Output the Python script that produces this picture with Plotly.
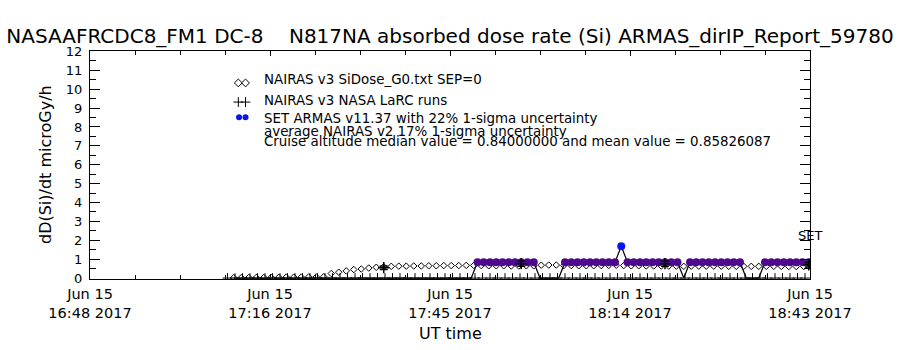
import pandas as pd
import plotly.graph_objects as go

# ---------------- data ----------------
# ARMAS SET absorbed dose rate, one record per minute starting 17:11 UT
armas_start = "2017-06-15 17:11:00"
armas_values = [
    0, 0, 0, 0, 0, 0, 0, 0, 0, 0, 0, 0, 0, 0, 0, 0, 0, 0, 0, 0,
    0, 0, 0, 0, 0, 0, 0, 0, 0, 0, 0, 0, 0, 0, 0, 0, 0, 0, 0,
    0.84, 0.84, 0.84, 0.84, 0.84, 0.84, 0.84, 0.84, 0.84, 0.84,
    0, 0, 0, 0,
    0.84, 0.84, 0.84, 0.84, 0.84, 0.84, 0.84, 0.84, 0.84,
    1.68,
    0.84, 0.84, 0.84, 0.84, 0.84, 0.84, 0.84, 0.84, 0.84,
    0,
    0.84, 0.84, 0.84, 0.84, 0.84, 0.84, 0.84, 0.84, 0.84,
    0, 0, 0,
    0.84, 0.84, 0.84, 0.84, 0.84, 0.84, 0.84, 0.84,
]

# NAIRAS v3 SiDose_G0 model, one value every 72 s starting 17:11 UT
nairas_start = "2017-06-15 17:11:00"
nairas_values = [
    0.02, 0.02, 0.03, 0.03, 0.03, 0.04, 0.04, 0.05, 0.05, 0.05, 0.06, 0.06, 0.07,
    0.24, 0.31, 0.38, 0.45, 0.48, 0.53, 0.57, 0.60,
    0.62, 0.63, 0.63, 0.64, 0.64, 0.65, 0.65, 0.66, 0.66, 0.66, 0.67, 0.67,
    0.66, 0.65, 0.65, 0.65, 0.64, 0.64, 0.65, 0.65,
    0.68, 0.69, 0.69,
    0.66, 0.66, 0.65, 0.65, 0.65, 0.66, 0.67, 0.68, 0.66, 0.65, 0.65, 0.64, 0.64, 0.64,
    0.63, 0.63,
    0.62, 0.63, 0.63, 0.63, 0.63, 0.63, 0.62, 0.62, 0.62, 0.62, 0.62, 0.62, 0.62, 0.62,
    0.61, 0.61, 0.61,
]

# NAIRAS v3 NASA LaRC runs (baseline records, one every 72 s from 17:10 UT)
larc_start = "2017-06-15 17:10:00"
larc_values = [
    0, 0, 0, 0, 0, 0, 0, 0, 0, 0, 0, 0, 0, 0, 0, 0, 0, 0, 0, 0,
    0, 0, 0, 0, 0, 0, 0, 0, 0, 0, 0, 0, 0, 0, 0, 0, 0, 0, 0, 0,
    0, 0, 0, 0, 0, 0, 0, 0, 0, 0, 0, 0, 0, 0, 0, 0, 0, 0, 0, 0,
    0, 0, 0, 0, 0, 0, 0, 0, 0, 0, 0, 0, 0, 0, 0, 0, 0, 0,
]

# average NAIRAS v2 with 17% 1-sigma uncertainty
avg_times = ["2017-06-15 17:35:00", "2017-06-15 17:57:00",
             "2017-06-15 18:20:00", "2017-06-15 18:43:00"]
avg_values = [0.55, 0.76, 0.76, 0.70]
avg_sigma_pct = 17

x_range = ["2017-06-15 16:48:00", "2017-06-15 18:43:12"]
x_tick_times = ["2017-06-15 16:48:00", "2017-06-15 17:16:48", "2017-06-15 17:45:36",
                "2017-06-15 18:14:24", "2017-06-15 18:43:12"]
x_tick_labels = ["Jun 15<br>16:48 2017", "Jun 15<br>17:16 2017", "Jun 15<br>17:45 2017",
                 "Jun 15<br>18:14 2017", "Jun 15<br>18:43 2017"]
y_tick_values = list(range(0, 13))

title_text = ("NASAAFRCDC8_FM1 DC-8\u00a0\u00a0\u00a0\u00a0N817NA absorbed dose rate (Si) "
              "ARMAS_dirIP_Report_59780")
legend_lines = [
    "NAIRAS v3 SiDose_G0.txt SEP=0",
    "NAIRAS v3 NASA LaRC runs",
    "SET ARMAS v11.37 with 22% 1-sigma uncertainty",
    "average NAIRAS v2 17% 1-sigma uncertainty",
    "Cruise altitude median value = 0.84000000 and mean value = 0.85826087",
]

# ---------------- figure ----------------
FONT = "DejaVu Sans"
PURPLE = "#4d0a8f"
BLUE = "#0a14f0"

armas_t = pd.date_range(armas_start, periods=len(armas_values), freq="60s")
nairas_t = pd.date_range(nairas_start, periods=len(nairas_values), freq="72s")
larc_t = pd.date_range(larc_start, periods=len(larc_values), freq="72s")

fig = go.Figure()

# NAIRAS diamonds
fig.add_trace(go.Scatter(
    x=nairas_t, y=nairas_values, mode="markers",
    marker=dict(symbol="diamond-open", size=5, color="black", line=dict(width=1)),
    showlegend=False))

# LaRC baseline pluses
fig.add_trace(go.Scatter(
    x=larc_t, y=larc_values, mode="markers",
    marker=dict(symbol="cross-thin", size=7, line=dict(width=1, color="black")),
    showlegend=False))

# ARMAS connecting line
fig.add_trace(go.Scatter(
    x=armas_t, y=armas_values, mode="lines",
    line=dict(color="black", width=1.2), showlegend=False))

# ARMAS markers (non-zero records)
nz_t = [t for t, v in zip(armas_t, armas_values) if v > 0]
nz_v = [v for v in armas_values if v > 0]
nz_c = [BLUE if v > 1.2 else PURPLE for v in nz_v]
fig.add_trace(go.Scatter(
    x=nz_t, y=nz_v, mode="markers",
    marker=dict(symbol="circle", size=8, color=nz_c, line=dict(width=0)),
    showlegend=False))

# average NAIRAS v2 with error bars
fig.add_trace(go.Scatter(
    x=pd.to_datetime(avg_times), y=avg_values, mode="markers",
    marker=dict(symbol="cross-thin", size=8, line=dict(width=1.5, color="black")),
    error_y=dict(type="percent", value=avg_sigma_pct, color="black", thickness=1.5, width=4),
    showlegend=False))

# legend glyphs on an overlay axis spanning the plot area
fig.add_trace(go.Scatter(
    x=[0.206, 0.216], y=[0.86, 0.86], xaxis="x2", yaxis="y2", mode="markers",
    marker=dict(symbol="diamond-open", size=6, color="black", line=dict(width=1)),
    showlegend=False, cliponaxis=False))
fig.add_trace(go.Scatter(
    x=[0.206, 0.216], y=[0.776, 0.776], xaxis="x2", yaxis="y2", mode="markers",
    marker=dict(symbol="cross-thin", size=7, line=dict(width=1, color="black")),
    showlegend=False, cliponaxis=False))
fig.add_trace(go.Scatter(
    x=[0.207, 0.216], y=[0.709, 0.709], xaxis="x2", yaxis="y2", mode="markers",
    marker=dict(symbol="circle", size=6, color=BLUE),
    showlegend=False, cliponaxis=False))

axis_common = dict(showline=True, linecolor="black", linewidth=1, mirror="ticks",
                   showgrid=False, zeroline=False, ticks="inside", tickcolor="black")

fig.update_layout(
    width=900, height=350,
    margin=dict(l=90, r=90, t=51, b=71),
    paper_bgcolor="white", plot_bgcolor="white",
    font=dict(family=FONT, color="black"),
    title=dict(text=title_text, x=0.5, xanchor="center", y=1 - 35.5 / 350, yanchor="middle",
               font=dict(size=20, family=FONT, color="black")),
    xaxis=dict(**axis_common, type="date", range=x_range, tickmode="array",
               tickvals=x_tick_times, ticktext=x_tick_labels, ticklen=5,
               tickfont=dict(size=14.5, family=FONT), ticklabelstandoff=2,
               minor=dict(ticks="inside", ticklen=4, tickcolor="black",
                          tick0=x_range[0], dtick=432000)),
    yaxis=dict(**axis_common, range=[-0.05, 12.02], tickmode="array",
               tickvals=y_tick_values, ticktext=[str(v) for v in y_tick_values],
               ticklen=10, tickfont=dict(size=13, family=FONT), ticklabelstandoff=4,
               minor=dict(ticks="inside", ticklen=6, tickcolor="black", dtick=0.5)),
    xaxis2=dict(overlaying="x", range=[0, 1], visible=False),
    yaxis2=dict(overlaying="y", range=[0, 1], visible=False),
    showlegend=False,
)

ann = []
ann.append(dict(text="dD(Si)/dt microGy/h", xref="paper", yref="paper",
                x=(45 - 90) / 720, y=0.5, textangle=-90, showarrow=False,
                font=dict(size=16, family=FONT), xanchor="center", yanchor="middle"))
ann.append(dict(text="UT time", xref="paper", yref="paper", x=0.5, y=(279 - 333) / 228,
                showarrow=False, font=dict(size=16, family=FONT),
                xanchor="center", yanchor="middle"))
leg_y = [80, 100, 118, 131, 141]
for txt, yy in zip(legend_lines, leg_y):
    ann.append(dict(text=txt, xref="paper", yref="paper", x=(262 - 90) / 720,
                    y=(279 - yy) / 228, showarrow=False, xanchor="left",
                    yanchor="middle", font=dict(size=13.4, family=FONT)))
ann.append(dict(text="SET", xref="paper", yref="y", x=1.0, y=2.25, showarrow=False,
                xanchor="center", yanchor="middle", font=dict(size=13, family=FONT)))
fig.update_layout(annotations=ann)

fig.write_html("out.html")
